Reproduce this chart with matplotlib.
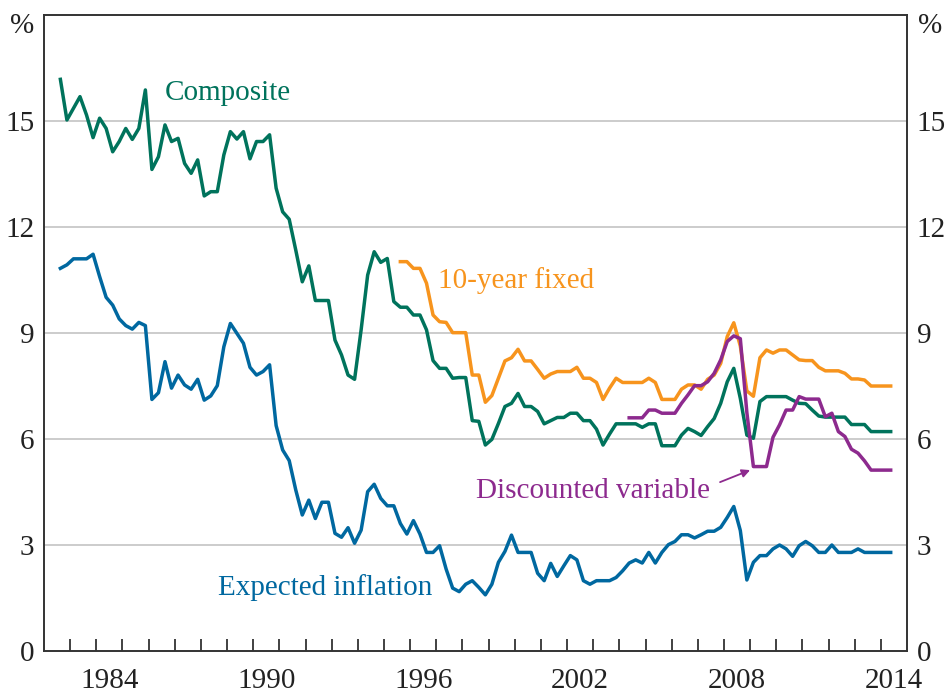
import numpy as np
import matplotlib
matplotlib.use('Agg')
import matplotlib.pyplot as plt

# Quarterly series, first point is mid Q3 1982
START_YEAR = 1982.625

composite = [
    16.18, 15.03, 15.36, 15.69, 15.17, 14.53, 15.08, 14.79, 14.13, 14.42,
    14.79, 14.48, 14.79, 15.88, 13.63, 13.99, 14.89, 14.42, 14.51, 13.80,
    13.52, 13.90, 12.88, 13.00, 13.00, 14.04, 14.70, 14.49, 14.70, 13.93,
    14.42, 14.42, 14.61, 13.10, 12.43, 12.22, 11.35, 10.45, 10.90, 9.92,
    9.92, 9.92, 8.80, 8.38, 7.81, 7.69, 9.09, 10.64, 11.30, 11.00,
    11.11, 9.89, 9.73, 9.73, 9.51, 9.51, 9.09, 8.22, 8.00, 8.00,
    7.72, 7.74, 7.74, 6.52, 6.50, 5.83, 5.99, 6.44, 6.92, 7.01,
    7.29, 6.92, 6.92, 6.78, 6.43, 6.52, 6.61, 6.61, 6.73, 6.73,
    6.52, 6.52, 6.28, 5.83, 6.14, 6.43, 6.43, 6.43, 6.43, 6.33,
    6.43, 6.43, 5.81, 5.81, 5.81, 6.11, 6.30, 6.21, 6.10, 6.35,
    6.58, 7.01, 7.62, 8.00, 7.15, 6.11, 6.02, 7.06, 7.20, 7.20,
    7.20, 7.20, 7.10, 7.01, 7.00, 6.82, 6.65, 6.62, 6.62, 6.62,
    6.62, 6.41, 6.41, 6.41, 6.21, 6.21, 6.21, 6.21,
]

expected_inflation = [
    10.83, 10.93, 11.10, 11.10, 11.10, 11.23, 10.60, 10.01, 9.79, 9.40,
    9.21, 9.11, 9.30, 9.21, 7.12, 7.31, 8.19, 7.44, 7.81, 7.53,
    7.41, 7.69, 7.10, 7.22, 7.51, 8.61, 9.27, 8.99, 8.71, 8.03,
    7.81, 7.91, 8.10, 6.38, 5.69, 5.39, 4.56, 3.85, 4.27, 3.75,
    4.21, 4.21, 3.33, 3.22, 3.49, 3.05, 3.42, 4.51, 4.72, 4.32,
    4.11, 4.11, 3.61, 3.31, 3.69, 3.31, 2.79, 2.79, 2.98, 2.32,
    1.78, 1.68, 1.89, 1.99, 1.80, 1.59, 1.89, 2.51, 2.82, 3.28,
    2.79, 2.79, 2.79, 2.20, 1.99, 2.48, 2.11, 2.41, 2.70, 2.58,
    1.99, 1.89, 1.99, 1.99, 1.99, 2.08, 2.27, 2.49, 2.58, 2.49,
    2.79, 2.49, 2.79, 3.01, 3.10, 3.29, 3.29, 3.20, 3.29, 3.39,
    3.39, 3.50, 3.78, 4.09, 3.41, 2.01, 2.51, 2.70, 2.70, 2.89,
    3.00, 2.89, 2.68, 2.98, 3.10, 2.98, 2.79, 2.79, 3.00, 2.79,
    2.79, 2.79, 2.89, 2.79, 2.79, 2.79, 2.79, 2.79,
]

# starts at quarter index 52
fixed_10yr_start = 52
fixed_10yr = [
    11.02, 11.02, 10.83, 10.83, 10.41, 9.51, 9.32, 9.30, 9.01, 9.01,
    9.01, 7.81, 7.81, 7.04, 7.23, 7.72, 8.21, 8.30, 8.54, 8.21,
    8.21, 7.97, 7.72, 7.84, 7.91, 7.91, 7.91, 8.03, 7.72, 7.72,
    7.60, 7.12, 7.44, 7.72, 7.60, 7.60, 7.60, 7.60, 7.72, 7.60,
    7.12, 7.12, 7.12, 7.41, 7.53, 7.53, 7.41, 7.69, 7.81, 8.14,
    8.90, 9.29, 8.63, 7.36, 7.21, 8.30, 8.52, 8.43, 8.52, 8.52,
    8.38, 8.24, 8.22, 8.22, 8.03, 7.93, 7.93, 7.93, 7.86, 7.70,
    7.70, 7.67, 7.50, 7.50, 7.50, 7.50,
]

# starts at quarter index 87
discounted_start = 87
discounted_variable = [
    6.60, 6.60, 6.60, 6.82, 6.82, 6.73, 6.73, 6.73, 7.01, 7.25,
    7.51, 7.51, 7.62, 7.86, 8.24, 8.76, 8.92, 8.84, 6.75, 5.22,
    5.22, 5.22, 6.05, 6.40, 6.82, 6.82, 7.20, 7.13, 7.13, 7.13,
    6.63, 6.73, 6.21, 6.07, 5.71, 5.60, 5.38, 5.12, 5.12, 5.12,
    5.12,
]

year_labels = ['1984', '1990', '1996', '2002', '2008', '2014']
y_ticks = [0, 3, 6, 9, 12, 15]

GREEN = '#00735c'
BLUE = '#0068a0'
ORANGE = '#f7941d'
PURPLE = '#8d2a8e'
TEXT = '#222222'


def quarter_x(start_idx: int, n: int) -> np.ndarray:
    return START_YEAR + 0.25 * (start_idx + np.arange(n))


plt.rcParams['font.family'] = ['Liberation Serif', 'DejaVu Serif']

fig = plt.figure(figsize=(9.47, 6.93), dpi=100)
ax = fig.add_axes([0.0465, 0.0606, 0.9113, 0.9177])

ax.set_xlim(1982, 2015)
ax.set_ylim(0, 18)

for v in y_ticks[1:]:
    ax.axhline(v, color='#c4c4c4', lw=1.2, zorder=1)

lw = 2.5
ax.plot(quarter_x(0, len(composite)), composite, color=GREEN, lw=lw, zorder=3)
ax.plot(quarter_x(0, len(expected_inflation)), expected_inflation,
        color=BLUE, lw=lw, zorder=3)
ax.plot(quarter_x(fixed_10yr_start, len(fixed_10yr)), fixed_10yr,
        color=ORANGE, lw=lw, zorder=3)
ax.plot(quarter_x(discounted_start, len(discounted_variable)),
        discounted_variable, color=PURPLE, lw=lw, zorder=4)

fs = 21
ax.text(1986.63, 15.6, 'Composite', color=GREEN, fontsize=fs, va='baseline')
ax.text(1988.65, 1.59, 'Expected inflation', color=BLUE, fontsize=fs,
        va='baseline')
ax.text(1997.07, 10.27, '10-year fixed', color=ORANGE, fontsize=fs,
        va='baseline')
ax.text(1998.5, 4.33, 'Discounted variable', color=PURPLE, fontsize=fs,
        va='baseline')
ax.annotate('', xy=(2009.0, 5.12), xytext=(2007.85, 4.78),
            arrowprops=dict(arrowstyle='-|>', color=PURPLE, lw=1.3,
                            mutation_scale=12, shrinkA=0, shrinkB=0))

# year ticks inside, labels centred in the year
ax.set_xticks(np.arange(1983, 2015), minor=True)
ax.set_xticks([int(y) + 0.5 for y in year_labels])
ax.set_xticklabels(year_labels)
ax.tick_params(axis='x', which='minor', direction='in', length=9,
               width=1.3, color='#333333', top=False)
ax.tick_params(axis='x', which='major', length=0, pad=12,
               labelsize=fs, labelcolor=TEXT)

ax.set_yticks(y_ticks)
ax.tick_params(axis='y', length=0, labelsize=fs, labelcolor=TEXT,
               left=True, right=True, labelleft=True, labelright=True, pad=7)

for sp in ax.spines.values():
    sp.set_color('#333333')
    sp.set_linewidth(1.4)

fig.text(0.023, 0.962, '%', fontsize=fs, color=TEXT, ha='center', va='center')
fig.text(0.982, 0.962, '%', fontsize=fs, color=TEXT, ha='center', va='center')

fig.savefig('out.png', dpi=100)
